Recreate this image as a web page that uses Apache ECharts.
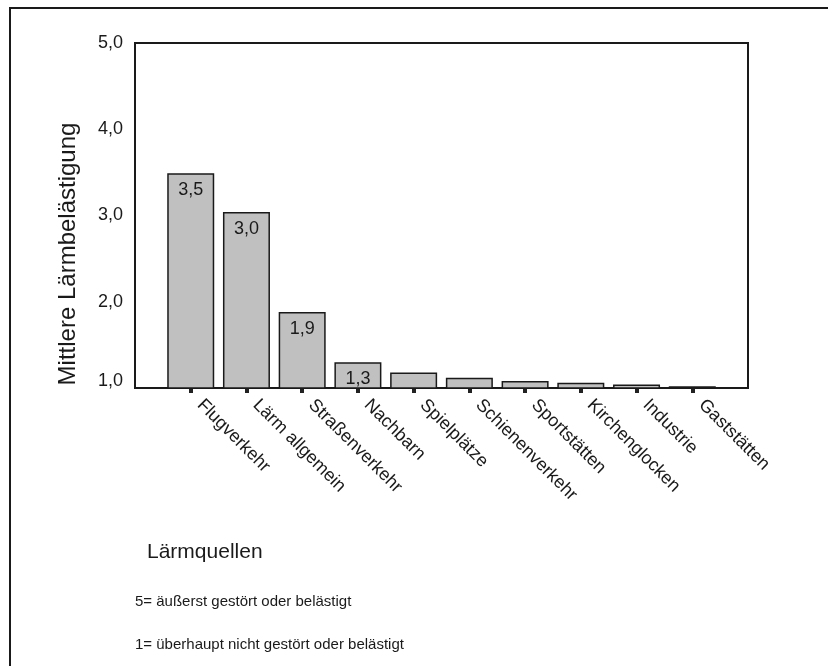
<!DOCTYPE html>
<html>
<head>
<meta charset="utf-8">
<title>Mittlere Lärmbelästigung nach Lärmquellen</title>
<script src="https://cdn.jsdelivr.net/npm/echarts@6/dist/echarts.min.js"></script>
<style>
  html, body { margin: 0; padding: 0; background: #fff; }
  #chart { width: 828px; height: 666px; }
</style>
</head>
<body>
<div id="chart"></div>
<script>
// Lärmquellen (Kategorien)
const categories = [
  'Flugverkehr', 'Lärm allgemein', 'Straßenverkehr', 'Nachbarn', 'Spielplätze',
  'Schienenverkehr', 'Sportstätten', 'Kirchenglocken', 'Industrie', 'Gaststätten'
];
// Mittelwerte der Belästigung (Skala 1 bis 5)
const meanValues = [3.49, 3.04, 1.88, 1.30, 1.18, 1.12, 1.08, 1.06, 1.04, 1.02];
// Anzahl der Balken mit Wertbeschriftung (von links)
const labelledCount = 4;
// Achsenbeschriftungen
const yTicks = [1, 2, 3, 4, 5];
const yAxisTitle = 'Mittlere Lärmbelästigung';
const xAxisTitle = 'Lärmquellen';
const noteLines = [
  '5= äußerst gestört oder belästigt',
  '1= überhaupt nicht gestört oder belästigt'
];

const FONT = 'Arial, "Liberation Sans", sans-serif';
const INK = '#1a1a1a';
const fmt = v => Number(v).toFixed(1).replace('.', ',');

// leere Randkategorien, damit die Balken eingerückt stehen
const axisCats = [''].concat(categories, ['']);
const barData = ['-'].concat(
  meanValues.map((v, i) => ({ value: v, label: { show: i < labelledCount } })),
  ['-']
);

const chart = echarts.init(document.getElementById('chart'), null, { renderer: 'canvas' });

chart.setOption({
  backgroundColor: '#ffffff',
  animation: false,
  grid: {
    left: 135, top: 43, right: 80, bottom: 278,
    show: true, borderColor: INK, borderWidth: 2, backgroundColor: 'transparent'
  },
  xAxis: {
    type: 'category',
    data: axisCats,
    boundaryGap: false,
    axisLine: { show: true, lineStyle: { color: INK, width: 2 } },
    axisTick: {
      show: true,
      length: 5,
      interval: (idx) => idx > 0 && idx <= categories.length,
      lineStyle: { color: '#222', width: 4 }
    },
    axisLabel: {
      rotate: -45,
      margin: 5,
      padding: [0, 0, 0, 13],
      interval: 0,
      fontFamily: FONT,
      fontSize: 18,
      color: INK
    },
    splitLine: { show: false }
  },
  yAxis: {
    type: 'value',
    min: yTicks[0],
    max: yTicks[yTicks.length - 1],
    interval: 1,
    axisLine: { show: true, lineStyle: { color: INK, width: 2 } },
    axisTick: { show: false },
    splitLine: { show: false },
    axisLabel: {
      margin: 12,
      fontFamily: FONT,
      fontSize: 18,
      color: INK,
      // die unterste Marke steht etwas über der Achse
      formatter: v => (v === yTicks[0] ? '{low|' + fmt(v) + '}' : fmt(v)),
      rich: {
        low: { fontFamily: FONT, fontSize: 18, color: INK, padding: [0, 0, 14, 0] }
      }
    }
  },
  series: [{
    type: 'bar',
    data: barData,
    barWidth: 47,
    itemStyle: { color: '#c0c0c0', borderColor: INK, borderWidth: 1.5 },
    label: {
      show: false,
      position: 'insideTop',
      distance: 8,
      fontFamily: FONT,
      fontSize: 18,
      color: INK,
      formatter: p => fmt(p.value)
    }
  }],
  graphic: [
    {
      type: 'rect',
      silent: true,
      shape: { x: 10, y: 8, width: 900, height: 800 },
      style: { fill: 'none', stroke: INK, lineWidth: 2 }
    },
    {
      type: 'text',
      x: 68, y: 254,
      rotation: Math.PI / 2,
      style: {
        text: yAxisTitle, fontFamily: FONT, fontSize: 24, fill: INK,
        textAlign: 'center', textVerticalAlign: 'middle'
      }
    },
    {
      type: 'text',
      x: 147, y: 552,
      style: {
        text: xAxisTitle, fontFamily: FONT, fontSize: 21, fill: INK,
        textAlign: 'left', textVerticalAlign: 'middle'
      }
    },
    {
      type: 'text',
      x: 135, y: 602,
      style: {
        text: noteLines[0], fontFamily: FONT, fontSize: 15, fill: INK,
        textAlign: 'left', textVerticalAlign: 'middle'
      }
    },
    {
      type: 'text',
      x: 135, y: 645,
      style: {
        text: noteLines[1], fontFamily: FONT, fontSize: 15, fill: INK,
        textAlign: 'left', textVerticalAlign: 'middle'
      }
    }
  ]
});
</script>
</body>
</html>
